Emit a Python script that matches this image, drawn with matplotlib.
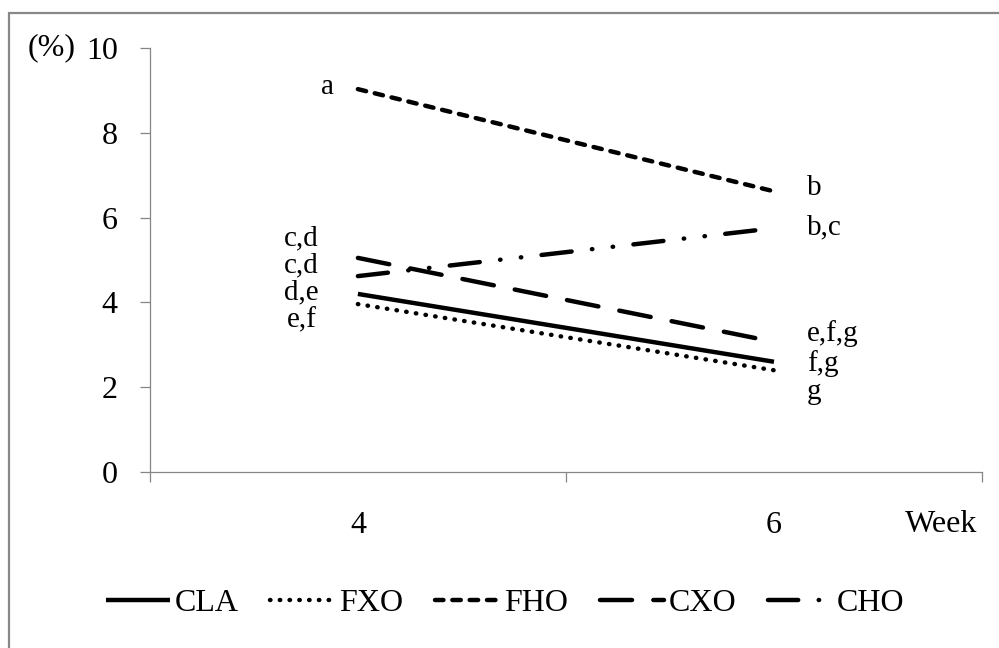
import matplotlib.pyplot as plt
from matplotlib.patches import Rectangle

plt.rcParams['font.family'] = ['Liberation Serif', 'DejaVu Serif']

# data
weeks = ['4', '6']
series = ['CLA', 'FXO', 'FHO', 'CXO', 'CHO']
values = {
    'CLA': [4.2, 2.6],
    'FXO': [3.96, 2.4],
    'FHO': [9.03, 6.62],
    'CXO': [5.05, 3.07],
    'CHO': [4.62, 5.75],
}
# significance letters
top_w4, top_w4_y = 'a', 9.08
stack_w4 = ['c,d', 'c,d', 'd,e', 'e,f']
stack_w4_y = 4.55
top_w6 = [('b', 6.70), ('b,c', 5.78)]
stack_w6 = ['e,f,g', 'f,g', 'g']
stack_w6_y = 2.58

styles = {
    'CLA': dict(linestyle='-'),
    'FXO': dict(linestyle=(0, (0.1, 2.1))),
    'FHO': dict(linestyle=(0, (1.9, 2.0))),
    'CXO': dict(linestyle=(0, (7.2, 4.8))),
    'CHO': dict(linestyle=(0, (6.8, 4.6, 0.1, 4.6, 0.1, 4.6))),
}

fig = plt.figure(figsize=(9.99, 6.48), dpi=100)
ax = fig.add_axes([0.150, 0.2716, 0.833, 0.6543])

x = list(range(len(weeks)))
for name in series:
    ax.plot(x, values[name], color='black', lw=3.2, label=name,
            dash_capstyle='round', solid_capstyle='butt', **styles[name])

fs = 23
lfs = 21
ax.text(-0.072, top_w4_y, top_w4, ha='center', va='center', fontsize=lfs)
ax.text(-0.135, stack_w4_y, '\n'.join(stack_w4), ha='center', va='center',
        multialignment='center', fontsize=lfs, linespacing=1.06)
for t, y in top_w6:
    ax.text(1.079, y, t, ha='left', va='center', fontsize=lfs)
ax.text(1.079, stack_w6_y, '\n'.join(stack_w6), ha='left', va='center',
        multialignment='left', fontsize=lfs, linespacing=1.12)

ax.set_xlim(-0.5, 1.5)
ax.set_ylim(0, 10)
ax.set_yticks([0, 2, 4, 6, 8, 10])
ax.set_xticks(x)
ax.set_xticklabels(weeks)
ax.set_xticks([-0.5, 0.5, 1.5], minor=True)

gray = '#868686'
for s in ['top', 'right']:
    ax.spines[s].set_visible(False)
for s in ['left', 'bottom']:
    ax.spines[s].set_color(gray)
    ax.spines[s].set_linewidth(0.9)

ax.tick_params(axis='y', direction='out', length=7.2, width=0.9, color=gray,
               labelsize=fs, pad=16)
ax.tick_params(axis='x', which='major', length=0, labelsize=fs, pad=28)
ax.tick_params(axis='x', which='minor', direction='out', length=7.2, width=0.9, color=gray)

fig.text(52 / 999, 1 - 48 / 648, '(%)', ha='center', va='center', fontsize=fs)
fig.text(941 / 999, 1 - 525 / 648, 'Week', ha='center', va='center', fontsize=fs)

fig.legend(loc='center', bbox_to_anchor=(505 / 999, 1 - 603 / 648), ncol=5,
           frameon=False, fontsize=fs, handlelength=2.0, handletextpad=0.15,
           columnspacing=1.0, borderaxespad=0)

fig.patches.append(Rectangle((9 / 999, -0.1), 1.0, 1.1 - 13 / 648,
                             transform=fig.transFigure, fill=False,
                             edgecolor='#888888', lw=1.6))

fig.savefig('out.png', dpi=100)
